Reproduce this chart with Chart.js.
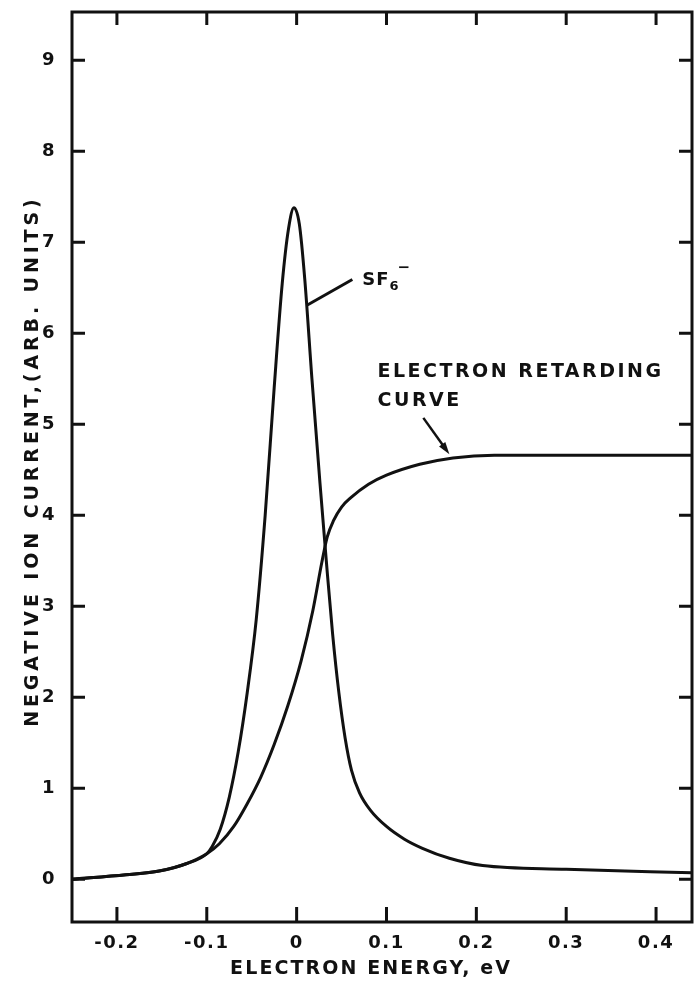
<!DOCTYPE html>
<html>
<head>
<meta charset="utf-8">
<title>Negative ion current vs electron energy</title>
<script src="https://cdn.jsdelivr.net/npm/chart.js@4.4.0/dist/chart.umd.min.js"></script>
<style>
  html, body { margin: 0; padding: 0; background: #fff; }
  canvas { display: block; }
</style>
</head>
<body>
<canvas id="chart" width="697" height="991"></canvas>
<script>
// SF6- attachment peak (arb. units) against electron energy (eV)
const sf6Energy = [-0.25, -0.19, -0.153, -0.123, -0.10, -0.094, -0.085, -0.075, -0.065, -0.055, -0.045, -0.035,
    -0.025, -0.016, -0.009, -0.003, 0.003, 0.009, 0.017, 0.026, 0.033, 0.040, 0.047, 0.054, 0.061,
    0.070, 0.082, 0.100, 0.120, 0.140, 0.170, 0.207, 0.30, 0.44];
const sf6Current = [0.0, 0.05, 0.09, 0.17, 0.28, 0.36, 0.55, 0.90, 1.40, 2.05, 2.85, 4.00,
    5.40, 6.55, 7.15, 7.38, 7.20, 6.60, 5.50, 4.35, 3.50, 2.70, 2.05, 1.55, 1.20,
    0.95, 0.76, 0.58, 0.44, 0.34, 0.23, 0.15, 0.11, 0.07];

// electron retarding curve
const retardEnergy = [-0.25, -0.19, -0.153, -0.123, -0.10, -0.086, -0.070, -0.055, -0.040, -0.025, -0.010,
    0.005, 0.018, 0.028, 0.034, 0.041, 0.050, 0.060, 0.080, 0.100, 0.137, 0.174, 0.22, 0.44];
const retardCurrent = [0.0, 0.05, 0.09, 0.17, 0.28, 0.39, 0.58, 0.83, 1.12, 1.48, 1.90,
    2.40, 2.95, 3.48, 3.76, 3.94, 4.09, 4.19, 4.34, 4.44, 4.56, 4.63, 4.66, 4.66];

const xTicks = [-0.2, -0.1, 0, 0.1, 0.2, 0.3, 0.4];
const xTickLabels = ['-0.2', '-0.1', '0', '0.1', '0.2', '0.3', '0.4'];
const yTicks = [0, 1, 2, 3, 4, 5, 6, 7, 8, 9];
const yTickLabels = ['0', '1', '2', '3', '4', '5', '6', '7', '8', '9'];

const INK = '#111111';
const FONT = '"DejaVu Sans", sans-serif';

// annotation anchors, in data units
const notes = {
    retardText: { x: 0.090, y: 5.57, gap: 0.31 },
    retardArrow: { from: [0.141, 5.07], to: [0.170, 4.67] },
    sf6Text: { x: 0.073, y: 6.58 },
    sf6Leader: { from: [0.012, 6.31], to: [0.062, 6.59] }
};

function toPoints(xs, ys) {
    return xs.map((x, i) => ({ x: x, y: ys[i] }));
}

function spacedText(ctx, text, x, y, size, spacing, align) {
    ctx.font = 'bold ' + size + 'px ' + FONT;
    ctx.letterSpacing = spacing + 'px';
    ctx.textAlign = align;
    ctx.textBaseline = 'middle';
    // trailing letter spacing pushes centred text left, so nudge it back
    ctx.fillText(text, align === 'center' ? x + spacing / 2 : x, y);
}

// frame, inward ticks, axis titles and the curve labels
const framePlugin = {
    id: 'frame',
    beforeDraw(chart) {
        chart.ctx.letterSpacing = '1.5px';
    },
    afterDraw(chart) {
        const ctx = chart.ctx;
        const a = chart.chartArea;
        const sx = chart.scales.x, sy = chart.scales.y;
        const px = v => sx.getPixelForValue(v);
        const py = v => sy.getPixelForValue(v);

        ctx.save();
        ctx.strokeStyle = INK;
        ctx.fillStyle = INK;
        ctx.lineWidth = 3;
        ctx.strokeRect(a.left, a.top, a.right - a.left, a.bottom - a.top);

        ctx.beginPath();
        sx.ticks.forEach(t => {
            const x = px(t.value);
            ctx.moveTo(x, a.bottom); ctx.lineTo(x, a.bottom - 15);
            ctx.moveTo(x, a.top); ctx.lineTo(x, a.top + 13);
        });
        sy.ticks.forEach(t => {
            const y = py(t.value);
            ctx.moveTo(a.left, y); ctx.lineTo(a.left + 13, y);
            ctx.moveTo(a.right, y); ctx.lineTo(a.right - 13, y);
        });
        ctx.stroke();

        // axis titles
        spacedText(ctx, 'ELECTRON ENERGY, eV', 370, 969, 19, 2.1, 'center');
        ctx.save();
        ctx.translate(33, 463);
        ctx.rotate(-Math.PI / 2);
        spacedText(ctx, 'NEGATIVE ION CURRENT,(ARB. UNITS)', 0, 0, 19, 3.9, 'center');
        ctx.restore();

        // retarding curve label and arrow
        const rt = notes.retardText;
        spacedText(ctx, 'ELECTRON RETARDING', px(rt.x), py(rt.y), 19, 2.5, 'left');
        spacedText(ctx, 'CURVE', px(rt.x), py(rt.y - rt.gap), 19, 2.5, 'left');

        const ar = notes.retardArrow;
        const x1 = px(ar.from[0]), y1 = py(ar.from[1]);
        const x2 = px(ar.to[0]), y2 = py(ar.to[1]);
        const ang = Math.atan2(y2 - y1, x2 - x1);
        ctx.lineWidth = 2.5;
        ctx.beginPath();
        ctx.moveTo(x1, y1);
        ctx.lineTo(x2 - 8 * Math.cos(ang), y2 - 8 * Math.sin(ang));
        ctx.stroke();
        ctx.beginPath();
        ctx.moveTo(x2, y2);
        ctx.lineTo(x2 - 13 * Math.cos(ang - 0.3), y2 - 13 * Math.sin(ang - 0.3));
        ctx.lineTo(x2 - 13 * Math.cos(ang + 0.3), y2 - 13 * Math.sin(ang + 0.3));
        ctx.closePath();
        ctx.fill();

        // SF6- label with leader line
        const sl = notes.sf6Leader;
        ctx.lineWidth = 3;
        ctx.beginPath();
        ctx.moveTo(px(sl.from[0]), py(sl.from[1]));
        ctx.lineTo(px(sl.to[0]), py(sl.to[1]));
        ctx.stroke();

        const st = notes.sf6Text;
        const tx = px(st.x), ty = py(st.y);
        spacedText(ctx, 'SF', tx, ty, 18, 1, 'left');
        const w = ctx.measureText('SF').width;
        spacedText(ctx, '6', tx + w, ty + 6, 13, 0, 'left');
        const w6 = ctx.measureText('6').width;
        spacedText(ctx, '\u2212', tx + w + w6 - 1, ty - 12, 15, 0, 'left');
        ctx.restore();
    }
};

const lineStyle = {
    borderColor: INK,
    borderWidth: 3,
    pointRadius: 0,
    fill: false,
    cubicInterpolationMode: 'monotone'
};

new Chart(document.getElementById('chart'), {
    type: 'line',
    data: {
        datasets: [
            Object.assign({ label: 'SF6-', data: toPoints(sf6Energy, sf6Current) }, lineStyle),
            Object.assign({ label: 'Electron retarding curve', data: toPoints(retardEnergy, retardCurrent) }, lineStyle)
        ]
    },
    options: {
        responsive: false,
        animation: false,
        layout: { padding: { top: 12, right: 5, left: 0, bottom: 0 } },
        plugins: {
            legend: { display: false },
            tooltip: { enabled: false }
        },
        scales: {
            x: {
                type: 'linear',
                min: -0.25,
                max: 0.44,
                afterBuildTicks: scale => { scale.ticks = xTicks.map(v => ({ value: v })); },
                afterFit: scale => {
                    scale.height = 69;
                    scale.paddingLeft = 0;
                    scale.paddingRight = 0;
                },
                grid: { display: false },
                border: { display: false },
                ticks: {
                    padding: 3,
                    color: INK,
                    font: { family: FONT, size: 18, weight: 'bold' },
                    callback: (value, index) => xTickLabels[index]
                }
            },
            y: {
                type: 'linear',
                min: -0.47,
                max: 9.53,
                afterBuildTicks: scale => { scale.ticks = yTicks.map(v => ({ value: v })); },
                afterFit: scale => {
                    scale.width = 72;
                    scale.paddingTop = 0;
                    scale.paddingBottom = 0;
                },
                grid: { display: false },
                border: { display: false },
                ticks: {
                    padding: 8,
                    color: INK,
                    font: { family: FONT, size: 18, weight: 'bold' },
                    callback: (value, index) => yTickLabels[index]
                }
            }
        }
    },
    plugins: [framePlugin]
});
</script>
</body>
</html>
